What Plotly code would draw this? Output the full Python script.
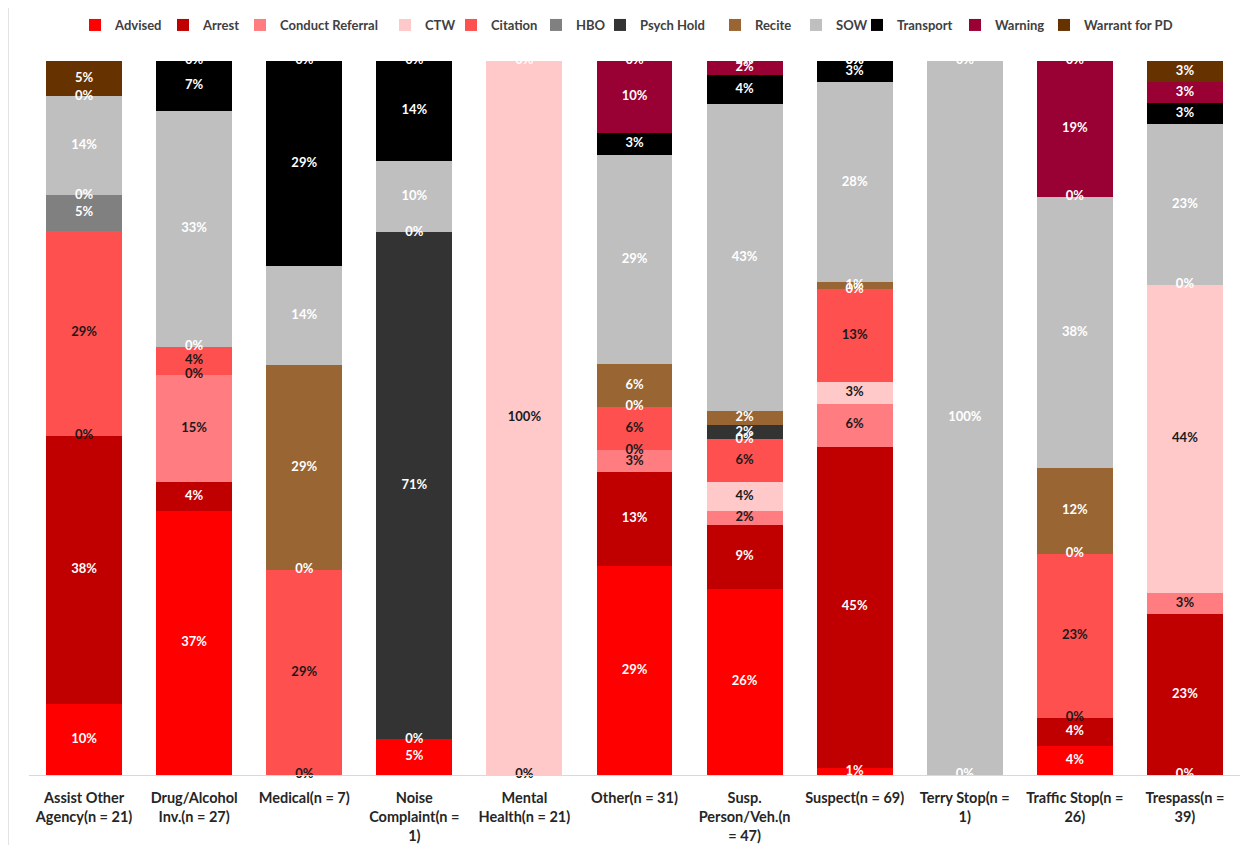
import plotly.graph_objects as go

categories = [
    "Assist Other<br>Agency(n = 21)",
    "Drug/Alcohol<br>Inv.(n = 27)",
    "Medical(n = 7)",
    "Noise<br>Complaint(n =<br>1)",
    "Mental<br>Health(n = 21)",
    "Other(n = 31)",
    "Susp.<br>Person/Veh.(n<br>= 47)",
    "Suspect(n = 69)",
    "Terry Stop(n =<br>1)",
    "Traffic Stop(n =<br>26)",
    "Trespass(n =<br>39)",
]

advised = [10, 37, None, 5, None, 29, 26, 1, 0, 4, 0]
arrest = [38, 4, None, None, None, 13, 9, 45, None, 4, 23]
conduct_referral = [0, 15, 0, None, 0, 3, 2, 6, None, 0, 3]
ctw = [None, 0, None, None, 100, 0, 4, 3, None, None, 44]
citation = [29, 4, 29, None, None, 6, 6, 13, None, 23, None]
hbo = [5, 0, 0, 0, None, 0, 0, 0, None, 0, 0]
psych_hold = [0, None, None, 71, None, None, 2, None, None, None, None]
recite = [None, None, 29, 0, None, 6, 2, 1, None, 12, None]
sow = [14, 33, 14, 10, None, 29, 43, 28, 100, 38, 23]
transport = [0, 7, 29, 14, 0, 3, 4, 3, 0, 0, 3]
warning = [None, 0, 0, 0, None, 10, 2, 0, None, 19, 3]
warrant_for_pd = [5, None, None, None, None, 0, 0, 0, None, 0, 3]

series = [
    ("Advised", advised, "#FF0000", "white"),
    ("Arrest", arrest, "#C00000", "white"),
    ("Conduct Referral", conduct_referral, "#FF7C80", "#1a1a1a"),
    ("CTW", ctw, "#FFC9C9", "#1a1a1a"),
    ("Citation", citation, "#FF5050", "#1a1a1a"),
    ("HBO", hbo, "#808080", "white"),
    ("Psych Hold", psych_hold, "#333333", "white"),
    ("Recite", recite, "#996633", "white"),
    ("SOW", sow, "#BFBFBF", "white"),
    ("Transport", transport, "#000000", "white"),
    ("Warning", warning, "#990033", "white"),
    ("Warrant for PD", warrant_for_pd, "#663300", "white"),
]

# page x (px) of each legend swatch along the top row
legend_swatch_px = [97, 185, 262, 407, 473, 558, 622, 737, 818, 879, 977, 1066]

FONT = "Lato"
PAGE_OFF = 8          # default body margin of the html page
W, H = 1249 - 2 * PAGE_OFF, 853 - 2 * PAGE_OFF
fig = go.Figure()

legend_layouts = {}
for k, (name, vals, col, _) in enumerate(series):
    lname = "legend" if k == 0 else f"legend{k + 1}"
    fig.add_trace(go.Bar(
        name=name, x=categories, y=vals, marker=dict(color=col, line=dict(width=0)),
        hoverinfo="skip", legend=lname,
    ))
    left = legend_swatch_px[k] - 5 - 17 - PAGE_OFF
    legend_layouts[lname] = dict(
        orientation="h", xref="container", yref="container",
        x=left / W, xanchor="left", y=1 - (25 - PAGE_OFF) / H, yanchor="middle",
        itemwidth=30, bgcolor="rgba(0,0,0,0)",
        font=dict(family=FONT, size=13, color="#404040", weight="bold"),
        itemclick=False, itemdoubleclick=False,
    )

# data labels (incl. zero-value labels like in the original)
lx, ly, lt, lc = [], [], [], []
tx, ty, tt, tc = [], [], [], []
for i, cat in enumerate(categories):
    total = sum(v[i] for _, v, _, _ in series if v[i] is not None)
    cum = 0.0
    for name, vals, col, tcol in series:
        v = vals[i]
        if v is None:
            continue
        mid = (cum + v / 2.0) / total * 100.0
        cum += v
        if mid >= 99.99:
            tx.append(cat); ty.append(mid); tt.append(f"{v}%"); tc.append(tcol)
        else:
            lx.append(cat); ly.append(mid); lt.append(f"{v}%"); lc.append(tcol)

LBL = 13
fig.add_trace(go.Scatter(
    x=lx, y=ly, text=lt, mode="text", showlegend=False, hoverinfo="skip",
    textfont=dict(family=FONT, size=LBL, color=lc, weight="bold"), cliponaxis=False,
))
fig.add_trace(go.Scatter(
    x=tx, y=ty, text=tt, mode="text", showlegend=False, hoverinfo="skip",
    textfont=dict(family=FONT, size=LBL, color=tc, weight="bold"), cliponaxis=True,
))

plot_left, plot_right, plot_top, plot_bottom = 29, 1240, 61, 775
plot_w = plot_right - plot_left
ml = plot_left - PAGE_OFF

# faint chart-area border on the left edge, as in the original
fig.add_shape(type="line", xref="paper", yref="paper",
              x0=-(ml - 0.5) / plot_w, x1=-(ml - 0.5) / plot_w,
              y0=-(H + PAGE_OFF - plot_bottom) / (plot_bottom - plot_top),
              y1=1 + (plot_top - PAGE_OFF) / (plot_bottom - plot_top),
              line=dict(color="#E3E3E3", width=1))

fig.update_layout(
    width=W, height=H,
    barmode="stack", barnorm="percent", bargap=0.31,
    paper_bgcolor="white", plot_bgcolor="white",
    margin=dict(l=ml, r=(W + PAGE_OFF) - plot_right,
                t=plot_top - PAGE_OFF, b=(H + PAGE_OFF) - plot_bottom, autoexpand=False),
    font=dict(family=FONT, color="#333333"),
    xaxis=dict(
        showline=True, linecolor="#D9D9D9", linewidth=1, ticks="", tickangle=0,
        tickfont=dict(family=FONT, size=14.5, color="#262626", weight="bold"),
        ticklabelstandoff=10, showgrid=False,
        range=[-0.5, len(categories) - 0.5], autorange=False,
    ),
    yaxis=dict(visible=False, range=[0, 100], showgrid=False),
    showlegend=True,
    **legend_layouts,
)

fig.write_html("out.html")
